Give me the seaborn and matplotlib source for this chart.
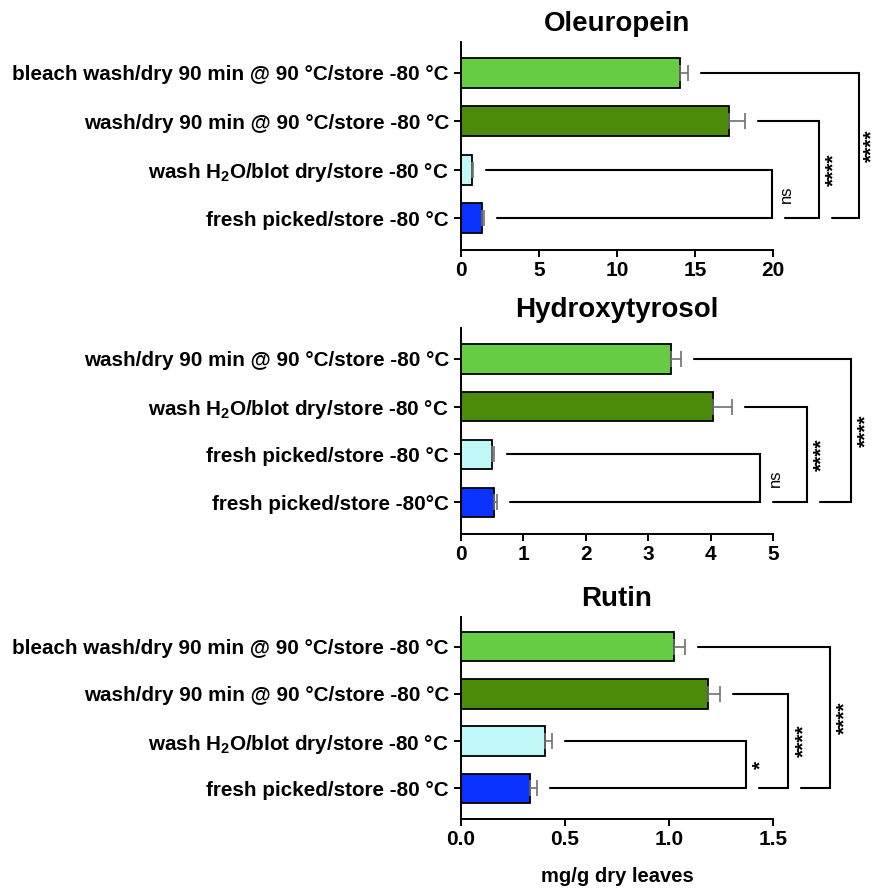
import matplotlib
matplotlib.use('Agg')
import matplotlib.pyplot as plt
import seaborn as sns
import pandas as pd

# DATA (rows listed top to bottom)

colors = ['#66CC44', '#4C8A0C', '#C0F8F8', '#0A33FF']

oleu_labels = ['bleach wash/dry 90 min @ 90 °C/store -80 °C',
               'wash/dry 90 min @ 90 °C/store -80 °C',
               'wash H$_2$O/blot dry/store -80 °C',
               'fresh picked/store -80 °C']
oleu_values = [14.0, 17.15, 0.7, 1.38]
oleu_errors = [0.55, 1.05, 0.1, 0.1]
oleu_sig = ['ns', '****', '****']

hyd_labels = ['wash/dry 90 min @ 90 °C/store -80 °C',
              'wash H$_2$O/blot dry/store -80 °C',
              'fresh picked/store -80 °C',
              'fresh picked/store -80°C']
hyd_values = [3.36, 4.04, 0.50, 0.53]
hyd_errors = [0.17, 0.30, 0.03, 0.05]
hyd_sig = ['ns', '****', '****']

rut_labels = ['bleach wash/dry 90 min @ 90 °C/store -80 °C',
              'wash/dry 90 min @ 90 °C/store -80 °C',
              'wash H$_2$O/blot dry/store -80 °C',
              'fresh picked/store -80 °C']
rut_values = [1.023, 1.187, 0.406, 0.332]
rut_errors = [0.055, 0.055, 0.033, 0.036]
rut_sig = ['*', '****', '****']

# STYLE

sns.set_style('ticks')
plt.rcParams['font.family'] = ['Liberation Sans', 'DejaVu Sans']
plt.rcParams['font.weight'] = 'bold'
plt.rcParams['text.color'] = 'black'
plt.rcParams['xtick.color'] = 'black'
plt.rcParams['ytick.color'] = 'black'
plt.rcParams['axes.edgecolor'] = 'black'
plt.rcParams['mathtext.fontset'] = 'custom'
plt.rcParams['mathtext.rm'] = 'Liberation Sans:bold'
plt.rcParams['mathtext.default'] = 'rm'

FIG_W, FIG_H = 882, 894
LEFT_PX, RIGHT_PX = 460.7, 882
SPINE_PX = 312.6      # length of the bottom spine in pixels
GAP_PX = 13
TEXT_PX = 15

sig_texts = []


def draw_panel(fig, title, labels, values, errors, sigs, top_px, bottom_px,
               spine_max, ticks, ticklabels, verts):
    ax = fig.add_axes([LEFT_PX / FIG_W, 1 - bottom_px / FIG_H,
                       (RIGHT_PX - LEFT_PX) / FIG_W, (bottom_px - top_px) / FIG_H])
    df = pd.DataFrame({'label': labels, 'value': values})
    sns.barplot(data=df, x='value', y='label', hue='label', hue_order=labels,
                order=labels, palette=colors, saturation=1, width=0.62,
                edgecolor='black', linewidth=1.3, errorbar=None, legend=False, ax=ax)
    ax.errorbar(values, range(len(values)), xerr=[[0] * len(errors), errors],
                fmt='none', ecolor='#707070', elinewidth=1.2, capsize=5.8,
                capthick=1.2, zorder=3)

    xmax = spine_max * (RIGHT_PX - LEFT_PX) / SPINE_PX
    ax.set_xlim(0, xmax)
    pxu = SPINE_PX / spine_max
    ax.set_ylim(3.66, -0.64)

    sns.despine(ax=ax)
    ax.spines['bottom'].set_bounds(0, spine_max)
    for s in ['left', 'bottom']:
        ax.spines[s].set_linewidth(1.4)
    ax.set_xticks(ticks)
    ax.set_xticklabels(ticklabels, fontsize=15, fontweight='bold')
    ax.tick_params(axis='x', length=5, width=1.4, pad=3)
    ax.tick_params(axis='y', length=5, width=1.4, pad=3.5, labelsize=14.9)
    ax.set_ylabel('')
    ax.set_xlabel('')

    ax.annotate(title, xy=(spine_max / 2, 1), xycoords=('data', 'axes fraction'),
                xytext=(0, 13), textcoords='offset points', ha='center', va='center',
                fontsize=20, fontweight='bold')

    # significance brackets against the bottom (fresh picked) row
    gap = GAP_PX / pxu
    bottom_row = len(values) - 1
    for k, (row, sig) in enumerate(zip([2, 1, 0], sigs)):
        vx = verts[k]
        x_top = values[row] + errors[row] + gap
        if k == 0:
            x_bot = values[bottom_row] + errors[bottom_row] + gap
        else:
            x_bot = verts[k - 1] + gap
        ax.plot([x_top, vx, vx, x_bot], [row, row, bottom_row, bottom_row],
                color='black', lw=1.5, clip_on=False, solid_joinstyle='miter')
        is_ns = sig == 'ns'
        t = ax.text(vx + TEXT_PX / pxu, (row + bottom_row) / 2, sig, rotation=90,
                    ha='center', va='center', clip_on=False,
                    fontsize=12 if is_ns else 15,
                    fontweight='normal' if is_ns else 'bold')
        sig_texts.append((ax, t, pxu))
    return ax


fig = plt.figure(figsize=(FIG_W / 100, FIG_H / 100), dpi=100)

draw_panel(fig, 'Oleuropein', oleu_labels, oleu_values, oleu_errors, oleu_sig,
           42, 250, 20, [0, 5, 10, 15, 20], ['0', '5', '10', '15', '20'],
           [19.9, 22.9, 25.5])
draw_panel(fig, 'Hydroxytyrosol', hyd_labels, hyd_values, hyd_errors, hyd_sig,
           328, 534, 5, [0, 1, 2, 3, 4, 5], ['0', '1', '2', '3', '4', '5'],
           [4.79, 5.54, 6.24])
ax3 = draw_panel(fig, 'Rutin', rut_labels, rut_values, rut_errors, rut_sig,
                 616.7, 819.3, 1.5, [0, 0.5, 1.0, 1.5], ['0.0', '0.5', '1.0', '1.5'],
                 [1.369, 1.572, 1.773])
ax3.annotate('mg/g dry leaves', xy=(0.75, 0), xycoords=('data', 'axes fraction'),
             xytext=(0, -41), textcoords='offset points', ha='center', va='center',
             fontsize=14.5, fontweight='bold')

# keep significance labels inside the figure's right edge
fig.canvas.draw()
renderer = fig.canvas.get_renderer()
for ax, t, pxu in sig_texts:
    over = t.get_window_extent(renderer).x1 - (FIG_W - 1)
    if over > 0:
        x, y = t.get_position()
        t.set_position((x - over / pxu, y))

fig.savefig('out.png', dpi=100)
